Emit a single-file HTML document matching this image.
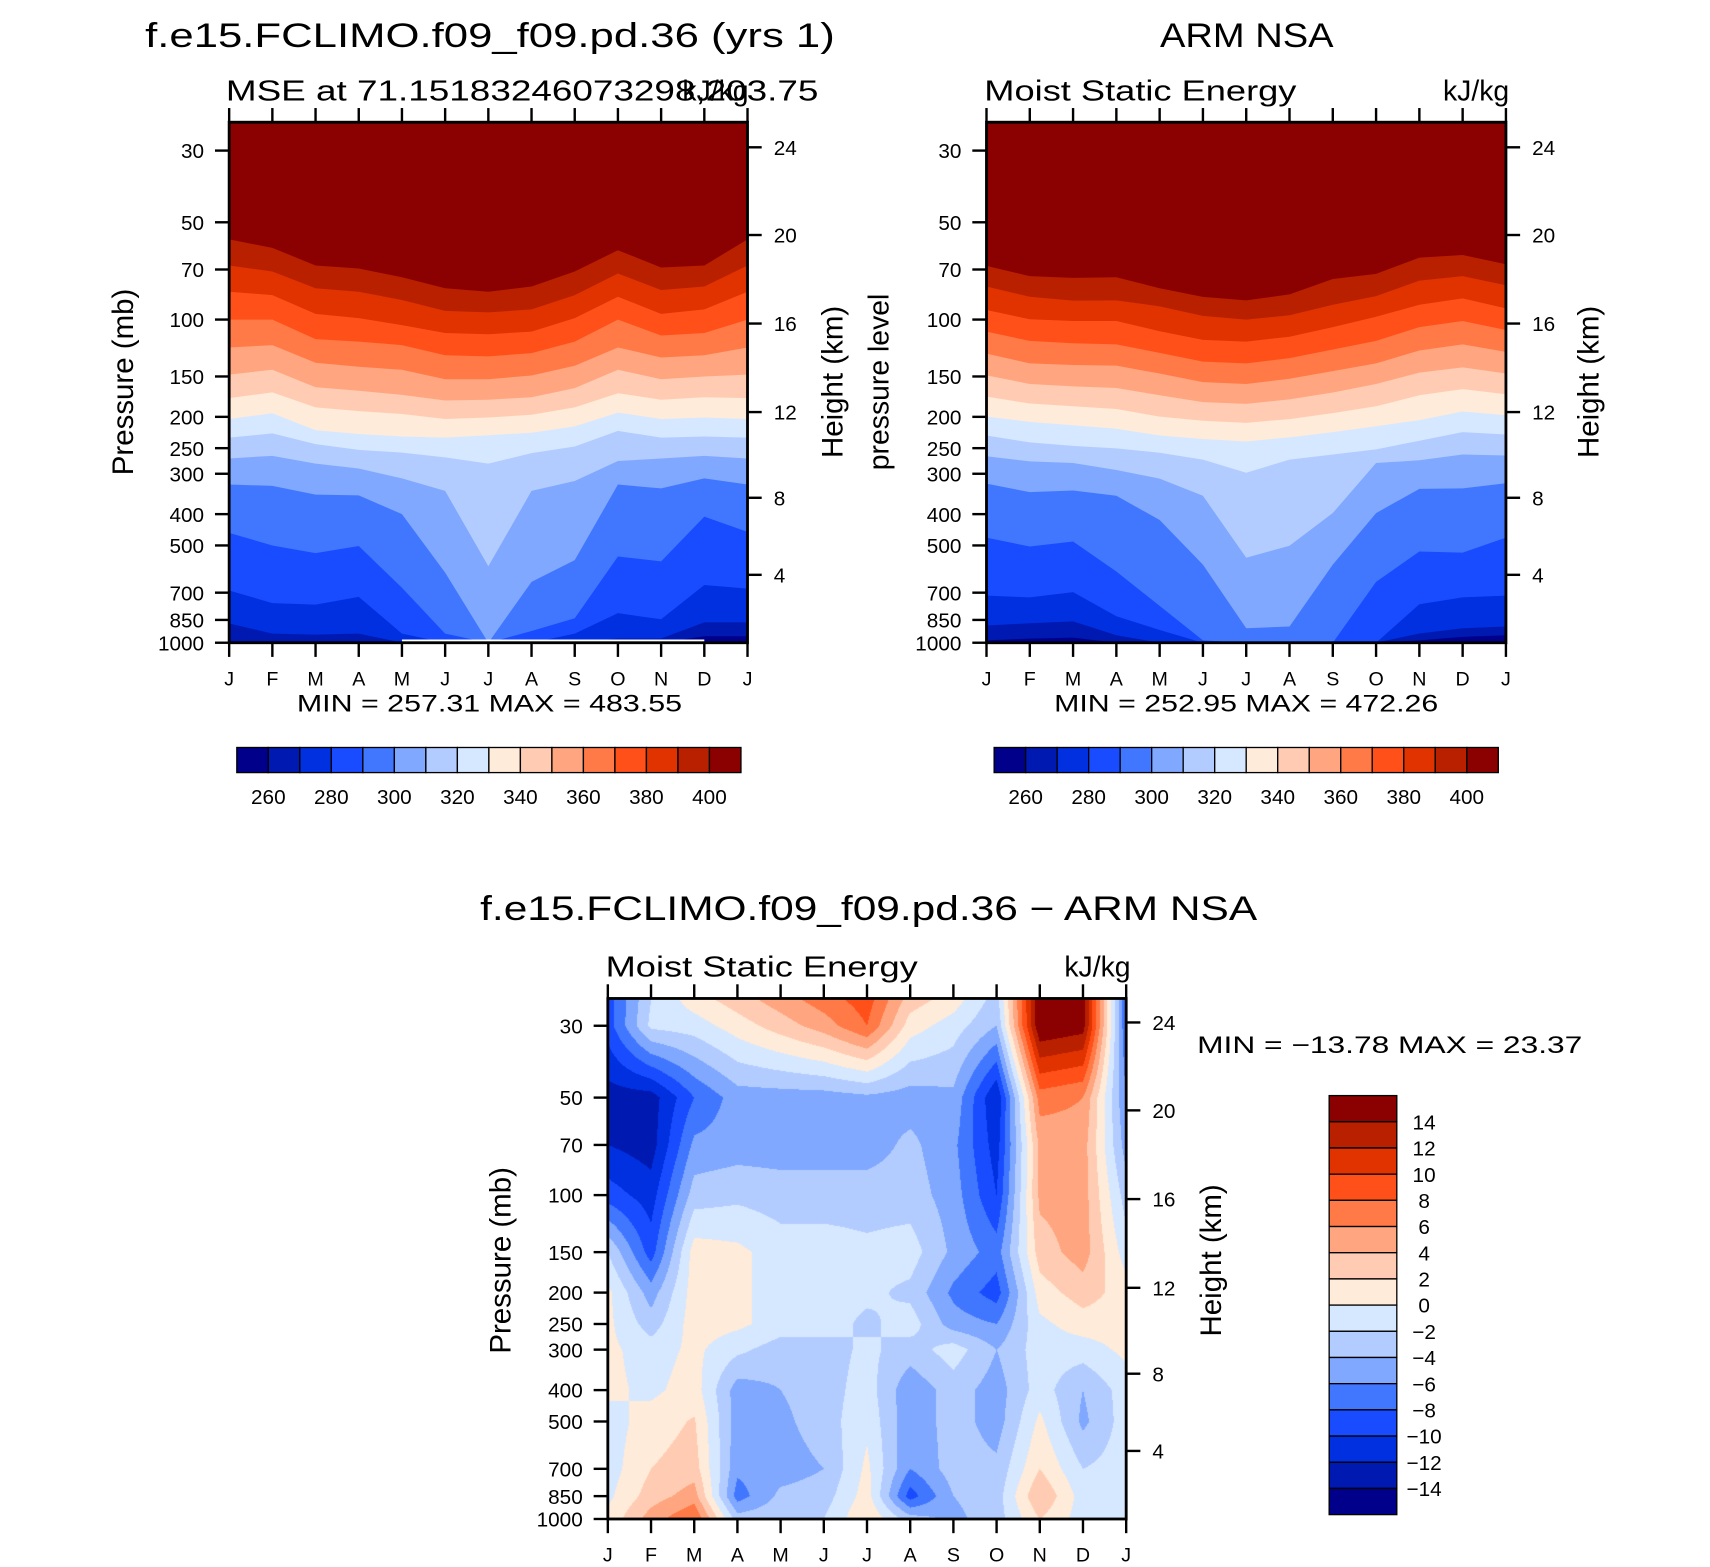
<!DOCTYPE html>
<html><head><meta charset="utf-8">
<style>
html,body{margin:0;padding:0;background:#fff;}
#wrap{position:relative;width:1710px;height:1567px;overflow:hidden;background:#fff;}
#c3{position:absolute;}
#svg{position:absolute;left:0;top:0;}
text{font-family:"Liberation Sans",sans-serif;fill:#000;}
</style></head>
<body>
<div id="wrap">
<canvas id="c3"></canvas>
<svg id="svg" width="1710" height="1567" viewBox="0 0 1567 1436" preserveAspectRatio="none" xmlns="http://www.w3.org/2000/svg"></svg>
</div>
<script>
// ---------- shared data ----------
const months = ["J","F","M","A","M","J","J","A","S","O","N","D","J"];
const pTicks = [30,50,70,100,150,200,250,300,400,500,700,850,1000];
const hTicks = [4,8,12,16,20,24];
const palette = ["#00008a","#0019b0","#0030e0","#1a4cff","#4177ff","#80a8ff","#b3ccff","#d6e8ff","#ffebd9","#ffccb3","#ffa680","#ff7a47","#ff5019","#e03300","#b82000","#8b0000"];
const mseLevels = [260,270,280,290,300,310,320,330,340,350,360,370,380,390,400];
const mseLabels = [260,280,300,320,340,360,380,400];
const diffLevels = [-14,-12,-10,-8,-6,-4,-2,0,2,4,6,8,10,12,14];

// Panel 1 (model) : pressure (mb) of each contour boundary per month
const m400=[56.5,60,68,69.5,74,80,82,79,71,61,69,68,56.5];
const m390=[68,71,80,82,87,94,95,93,84,72,81,79,68];
const m380=[82,84,96,99,104,110,111,109,99,85,96,93,82];
const m370=[100,100,115,117,120,129,130,127,117,100,112,110,100];
const m360=[122,120,136,140,143,153,153,149,139,122,131,129,122];
const m350=[148,143,162,166,171,178,177,174,163,143,153,150,148];
const m340=[175,168,187,192,196,203,201,197,187,169,177,174,175];
const m330=[203,195,220,226,230,232,228,224,214,194,203,201,203];
const m320=[232,225,243,253,258,267,279,259,247,221,232,230,232];
const m310=[269,264,279,289,310,339,580,339,316,274,269,264,269];
const m300=[324,327,348,350,400,607,1000,648,555,324,333,310,324];
const m290=[457,500,528,502,676,937,1000,920,840,541,560,407,454];
const m280=[689,754,762,721,937,1000,1000,1000,937,810,846,663,680];
const m270=[872,937,944,937,1000,1000,1000,1000,1000,970,970,865,865];
const m260=[1000,1000,1000,1000,1000,1000,1000,1000,1000,1000,1000,955,955];

// Panel 2 (ARM NSA)
const o400=[68.2,73.4,74.3,74.0,80.0,85.1,87.2,83.6,74.9,72.2,64.3,63.1,67.4];
const o390=[79,85,87.4,87.2,91,97.4,100,97,90,84.6,75.8,73.4,78.3];
const o380=[93.4,99.8,101,101,108.7,115.6,117,113,105.5,98,90,86,92.3];
const o370=[109,116.4,118.4,119.3,126.8,134.9,136.6,131.6,123.8,116.4,105.5,101,107.7];
const o360=[127.5,136.6,138.2,138.9,146.9,156.2,158.2,152.5,144.4,136.6,124.7,119.3,125.9];
const o350=[148.8,158.2,160.9,162.9,171.5,180.1,182.3,176.6,168.2,158.2,145.9,140.6,146.9];
const o340=[173.2,181.9,185.5,189.2,199.7,205.7,208.7,203.2,194.8,185.5,171.5,164.1,170.2];
const o330=[199.7,207.2,212.3,217.6,228.5,234.2,238.3,231.4,223,213.9,204.7,192.5,197.8];
const o320=[228.5,240,246,250.3,258.3,271.3,297.8,271.3,261.5,252.1,237.1,223,226.9];
const o310=[264.8,274.7,278,292,310.5,351,545.6,501,396.8,278,272.6,261.5,263.5];
const o300=[322,342,338,351,417,573,902,891,573,397,334,333,321];
const o290=[473,504,486,602,769,983,1000,1000,1000,648,522,526,473];
const o280=[715,724,697,828,913,1000,1000,1000,1000,1000,760,724,715];
const o270=[885,870,859,948,1000,1000,1000,1000,1000,1000,936,902,891];
const o260=[983,971,964,1000,1000,1000,1000,1000,1000,1000,983,959,948];

// Panel 3 (difference) : values at pressure levels per month
const diffP=[25,30,50,70,100,150,200,250,300,400,500,700,850,1000];
const d25=[-9,-2,1,3,5,7,9,3,1,-3,16,15,-8];
const d30=[-9,-1.5,-1,1,3,5,8,1,-1,-4,16,15,-8];
const d50=[-13,-13,-8,-5,-5,-5,-4.5,-5,-4.5,-12,7,6,-6];
const d70=[-12,-13,-5.5,-5,-5,-5,-5,-3.5,-5.5,-11,4.5,5,-5];
const d100=[-9,-11,-3,-2.5,-3,-3,-3,-3,-5,-10,4.5,5,-3];
const d150=[-2,-9,1,0.5,-1,-1,-1.5,-1,-4.5,-7,3,5,-1];
const d200=[0.5,-5,1,0.5,-1,-1,-1.5,-2.5,-6.5,-9,1,3,1];
const d250=[0.5,-3,1,0.5,-1,-1,-2.5,-1,-5,-6,-0.5,1,1];
const d300=[0.5,-1,0.5,-1.5,-3,-3,-1.5,-3,-1,-4,-1,-1,0.5];
const d400=[0.5,-0.5,1,-5,-4,-3,-1,-5.5,-3,-5,-1,-4,-1];
const d500=[-1,1,2.2,-5,-4.5,-3,-0.5,-5.5,-3,-5,0.5,-4.5,-1];
const d700=[-1,2,3,-5.5,-5,-4,0.5,-6,-3,-3.5,2,-2,-1];
const d850=[-0.5,3,5,-7,-3.5,-3,1,-9,-4,-3,4,-1,-1];
const d1000=[0.5,5,8,-3,-2.5,-2,2,-3,-4.5,-3,2,-1,-0.5];

const modelBounds=[m400,m390,m380,m370,m360,m350,m340,m330,m320,m310,m300,m290,m280,m270,m260];
const obsBounds=[o400,o390,o380,o370,o360,o350,o340,o330,o320,o310,o300,o290,o280,o270,o260];
const diffRows=[d25,d30,d50,d70,d100,d150,d200,d250,d300,d400,d500,d700,d850,d1000];

// ---------- helpers ----------
const VBW=1567, VBH=1436;
const NS="http://www.w3.org/2000/svg";
const svg=document.getElementById('svg');
function mk(tag,attrs,parent){const e=document.createElementNS(NS,tag);for(const k in attrs)e.setAttribute(k,attrs[k]);(parent||svg).appendChild(e);return e;}
function txt(s,x,y,size,anchor,parent,extra){const e=mk('text',Object.assign({x:x,y:y,'font-size':size,'text-anchor':anchor||'start'},extra||{}),parent);e.textContent=s;return e;}
function stdHeightToP(z){z*=1000;if(z<=11000)return 1013.25*Math.pow(1-2.25577e-5*z,5.25588);if(z<=20000)return 226.32*Math.exp(-(z-11000)/6341.6);return 54.75*Math.pow(1+(z-20000)/216650,-34.163);}

function makeAxes(x0,x1,yTop,y30,y1000){
  const lp0=Math.log10(30),lp1=3;
  return {
    x:i=>x0+i*(x1-x0)/12,
    y:p=>y30+(Math.log10(p)-lp0)*(y1000-y30)/(lp1-lp0),
    x0:x0,x1:x1,yTop:yTop,yBot:y1000
  };
}

function drawFrame(ax,g){
  const tl=13;
  for(let i=0;i<months.length;i++){
    const x=ax.x(i);
    const tb=mk('line',{x1:x,y1:ax.yBot,x2:x,y2:ax.yBot+tl,stroke:'#000','stroke-width':2.2},g);
    
    mk('line',{x1:x,y1:ax.yTop,x2:x,y2:ax.yTop-tl,stroke:'#000','stroke-width':2.2},g);
    const t=txt(months[i],x,ax.yBot+tl+26,18,'middle',g);
    
  }
  for(const p of pTicks){
    const y=ax.y(p);
    mk('line',{x1:ax.x0-tl,y1:y,x2:ax.x0,y2:y,stroke:'#000','stroke-width':2.2},g);
    const t=txt(String(p),ax.x0-23,y+7,19,'end',g);
    
  }
  for(const h of hTicks){
    const y=ax.y(stdHeightToP(h));
    mk('line',{x1:ax.x1,y1:y,x2:ax.x1+tl,y2:y,stroke:'#000','stroke-width':2.2},g);
    const t=txt(String(h),ax.x1+24,y+7,19,'start',g);
    
  }
  const fr=mk('rect',{x:ax.x0,y:ax.yTop,width:ax.x1-ax.x0,height:ax.yBot-ax.yTop,fill:'none',stroke:'#000','stroke-width':2.6},g);
  
}

function drawBands(ax,bounds,g,name){
  const clipId='clip'+name;
  const cp=mk('clipPath',{id:clipId},g);
  mk('rect',{x:ax.x0,y:ax.yTop,width:ax.x1-ax.x0,height:ax.yBot-ax.yTop},cp);
  const gg=mk('g',{'clip-path':'url(#'+clipId+')'},g);
  const bg=mk('rect',{x:ax.x0,y:ax.yTop,width:ax.x1-ax.x0,height:ax.yBot-ax.yTop,fill:palette[15]},gg);
  
  for(let k=0;k<bounds.length;k++){
    const b=bounds[k];
    let pts=[];
    for(let i=0;i<b.length;i++)pts.push(ax.x(i).toFixed(2)+','+ax.y(b[i]).toFixed(2));
    pts.push(ax.x1+','+(ax.yBot+2));pts.push(ax.x0+','+(ax.yBot+2));
    const poly=mk('polygon',{points:pts.join(' '),fill:palette[14-k]},gg);
    
    
  }
  return gg;
}

function hColorbar(x0,x1,y0,y1,g){
  const w=(x1-x0)/16;
  for(let i=0;i<16;i++){
    const r=mk('rect',{x:x0+i*w,y:y0,width:w,height:y1-y0,fill:palette[i],stroke:'#000','stroke-width':1.2},g);
    
  }
  for(const v of mseLabels){
    const idx=mseLevels.indexOf(v)+1;
    const t=txt(String(v),x0+idx*w,y1+29,19,'middle',g);
    
  }
}

function rotLabel(s,x,y,size,g,name){
  const t=mk('text',{x:x,y:y,'font-size':size,'text-anchor':'middle',transform:'rotate(-90 '+x+' '+y+')'},g);
  t.textContent=s;
  
  return t;
}

// ---------- Panel 1 ----------
const g1=mk('g',{});

const ax1=makeAxes(210,685,112,138,589);
const bands1=drawBands(ax1,modelBounds,g1,'1');
mk('line',{x1:ax1.x(4),y1:ax1.yBot-2,x2:ax1.x(11),y2:ax1.yBot-2,stroke:'#fff','stroke-width':2},bands1);
drawFrame(ax1,g1);
let t;
t=txt("f.e15.FCLIMO.f09_f09.pd.36 (yrs 1)",133,43,31,'start',g1,{textLength:632,lengthAdjust:'spacingAndGlyphs'});

t=txt("MSE at 71.15183246073298,203.75",207,92,26,'start',g1,{textLength:543,lengthAdjust:'spacingAndGlyphs'});

t=txt("kJ/kg",686,92,26,'end',g1);

rotLabel("Pressure (mb)",122,350,27,g1,'y-axis-title');
rotLabel("Height (km)",772,350,27,g1,'right-axis-title');
t=txt("MIN = 257.31  MAX = 483.55",272,652,22,'start',g1,{textLength:353,lengthAdjust:'spacingAndGlyphs'});

hColorbar(217,679,685,708,g1);

// ---------- Panel 2 ----------
const g2=mk('g',{});

const ax2=makeAxes(904,1380,112,138,589);
drawBands(ax2,obsBounds,g2,'2');
drawFrame(ax2,g2);
t=txt("ARM NSA",1063,43,31,'start',g2,{textLength:159,lengthAdjust:'spacingAndGlyphs'});

t=txt("Moist Static Energy",902,92,26,'start',g2,{textLength:286,lengthAdjust:'spacingAndGlyphs'});

t=txt("kJ/kg",1383,92,26,'end',g2);

rotLabel("pressure level",814,350,26,g2,'y-axis-title');
rotLabel("Height (km)",1465,350,27,g2,'right-axis-title');
t=txt("MIN = 252.95  MAX = 472.26",966,652,22,'start',g2,{textLength:352,lengthAdjust:'spacingAndGlyphs'});

hColorbar(911,1373,685,708,g2);

// ---------- Panel 3 ----------
const g3=mk('g',{});

const ax3=makeAxes(557,1032,915,940,1392);
drawFrame(ax3,g3);
t=txt("f.e15.FCLIMO.f09_f09.pd.36 \u2212 ARM NSA",440,843,31,'start',g3,{textLength:712,lengthAdjust:'spacingAndGlyphs'});

t=txt("Moist Static Energy",555,895,26,'start',g3,{textLength:286,lengthAdjust:'spacingAndGlyphs'});

t=txt("kJ/kg",1036,895,26,'end',g3);

rotLabel("Pressure (mb)",468,1155,27,g3,'y-axis-title');
rotLabel("Height (km)",1119,1155,27,g3,'right-axis-title');
t=txt("MIN = \u221213.78  MAX =   23.37",1097,965,22,'start',g3,{textLength:353,lengthAdjust:'spacingAndGlyphs'});

(function(){
  const x0=1218,x1=1280,y0=1004,y1=1388,h=(y1-y0)/16;
  for(let i=0;i<16;i++){
    const r=mk('rect',{x:x0,y:y0+i*h,width:x1-x0,height:h,fill:palette[15-i],stroke:'#000','stroke-width':1.2},g3);
    
  }
  for(let k=0;k<diffLevels.length;k++){
    const v=diffLevels[14-k];
    const s=v<0?'\u2212'+Math.abs(v):String(v);
    const tt=txt(s,1305,y0+(k+1)*h+7,19,'middle',g3);
    
  }
})();

// canvas contour fill for panel 3
(function(){
  const sx=1710/VBW, sy=1567/VBH;
  const cv=document.getElementById('c3');
  const L=Math.round(ax3.x0*sx), T=Math.round(ax3.yTop*sy);
  const W=Math.round(ax3.x1*sx)-L, H=Math.round(ax3.yBot*sy)-T;
  cv.width=W;cv.height=H;cv.style.left=L+'px';cv.style.top=T+'px';
  const ctx=cv.getContext('2d');
  const img=ctx.createImageData(W,H);
  const rgb=palette.map(c=>[parseInt(c.substr(1,2),16),parseInt(c.substr(3,2),16),parseInt(c.substr(5,2),16)]);
  const lp0=Math.log10(30);
  const logs=diffP.map(p=>Math.log10(p));
  for(let py=0;py<H;py++){
    const yd=(T+py+0.5)/sy;
    const lp=lp0+(yd-940)*(3-lp0)/(1392-940);
    let r=0;while(r<logs.length-2&&lp>logs[r+1])r++;
    let fy=(lp-logs[r])/(logs[r+1]-logs[r]);fy=Math.max(0,Math.min(1,fy));
    const A=diffRows[r],B=diffRows[r+1];
    for(let px=0;px<W;px++){
      const xd=(L+px+0.5)/sx;
      let fm=(xd-ax3.x0)/(ax3.x1-ax3.x0)*12;fm=Math.max(0,Math.min(12,fm));
      let c=Math.min(11,Math.floor(fm));const fx=fm-c;
      const v=(A[c]*(1-fx)+A[c+1]*fx)*(1-fy)+(B[c]*(1-fx)+B[c+1]*fx)*fy;
      let cls=0;while(cls<15&&v>diffLevels[cls])cls++;
      const col=rgb[cls];const o=(py*W+px)*4;
      img.data[o]=col[0];img.data[o+1]=col[1];img.data[o+2]=col[2];img.data[o+3]=255;
    }
  }
  ctx.putImageData(img,0,0);
})();
</script>
</body></html>
